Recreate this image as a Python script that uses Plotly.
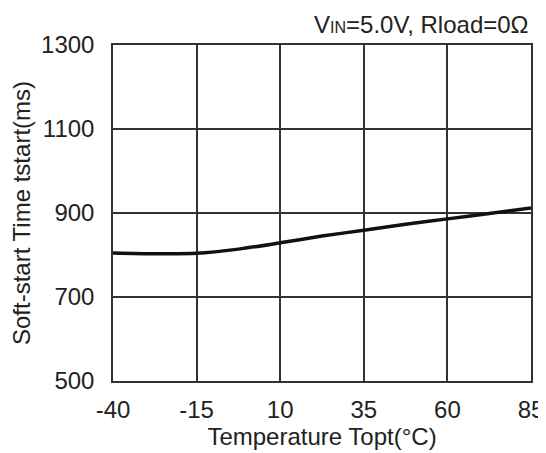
import plotly.graph_objects as go

temp = [-40, -27.5, -15, -2.5, 10, 22.5, 35, 47.5, 60, 72.5, 85]
tstart = [805, 803, 804, 814, 829, 845, 859, 873, 886, 899, 912]

x_ticks = [-40, -15, 10, 35, 60, 85]
y_ticks = [500, 700, 900, 1100, 1300]

font = "Liberation Sans, Arial, sans-serif"
tc = "#222222"
fig = go.Figure()
fig.add_trace(go.Scatter(x=temp, y=tstart, mode="lines",
                         line=dict(color="#111111", width=3.5, shape="spline", smoothing=0.8),
                         showlegend=False, hoverinfo="skip"))
axis_common = dict(showgrid=True, gridcolor="#333333", gridwidth=1.5, showline=True,
                   linecolor="#333333", linewidth=1.5, mirror=True, ticks="outside",
                   tickcolor="rgba(0,0,0,0)", automargin=False,
                   zeroline=False, tickfont=dict(family=font, size=24, color=tc))
fig.update_xaxes(range=[-40, 85], tickvals=x_ticks, ticktext=[str(v) for v in x_ticks], ticklen=6,
                 title=dict(text="Temperature Topt(°C)", font=dict(family=font, size=24, color=tc), standoff=0),
                 **axis_common)
fig.update_yaxes(range=[500, 1300], tickvals=y_ticks, ticklen=12,
                 title=dict(text="Soft-start Time tstart(ms)", font=dict(family=font, size=24, color=tc), standoff=6),
                 **axis_common)
fig.add_annotation(text="V<span style='font-size:16px'>IN</span>=5.0V, Rload=0Ω", x=1, y=1.015,
                   xref="paper", yref="paper", xanchor="right", yanchor="bottom", showarrow=False,
                   font=dict(family=font, size=24, color=tc))
# body has an 8px default margin in the page, so margins are shifted by 8px
fig.update_layout(width=546, height=453, margin=dict(l=105, r=23, t=37, b=80),
                  plot_bgcolor="white", paper_bgcolor="white")
fig.write_html("out.html")
